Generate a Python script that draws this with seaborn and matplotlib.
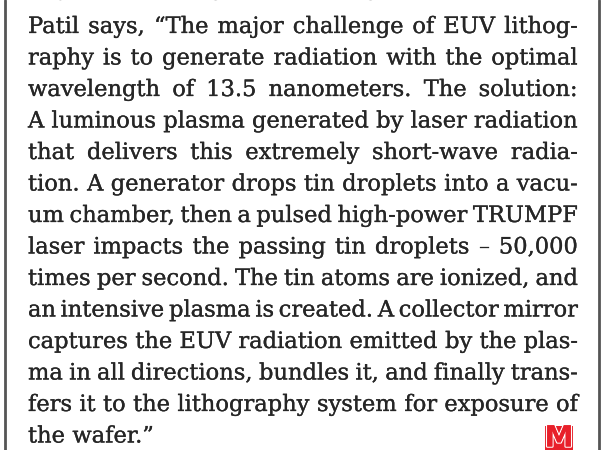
import seaborn as sns
import matplotlib.pyplot as plt
import matplotlib.patheffects as pe
from matplotlib import font_manager
from matplotlib.patches import Rectangle

sns.set_style("white")

# prefer a condensed serif if one is installed
serif = 'DejaVu Serif'
for cand in ['DejaVu Serif Condensed']:
    try:
        font_manager.findfont(cand, fallback_to_default=False)
        serif = cand
        break
    except ValueError:
        pass
plt.rcParams['font.family'] = [serif]

# Text lines of the excerpt (last one is not justified)
top_line = "Key to mastering this challenge."
lines = [
    "Patil says, \u201cThe major challenge of EUV lithog-",
    "raphy is to generate radiation with the optimal",
    "wavelength of 13.5 nanometers. The solution:",
    "A luminous plasma generated by laser radiation",
    "that delivers this extremely short-wave radia-",
    "tion. A generator drops tin droplets into a vacu-",
    "um chamber, then a pulsed high-power TRUMPF",
    "laser impacts the passing tin droplets \u2013 50,000",
    "times per second. The tin atoms are ionized, and",
    "an intensive plasma is created. A collector mirror",
    "captures the EUV radiation emitted by the plas-",
    "ma in all directions, bundles it, and finally trans-",
    "fers it to the lithography system for exposure of",
    "the wafer.\u201d",
]
justified = [True] * 13 + [False]
logo_text = "M"

W, H = 603, 450
left, right = 28, 578
first_base, pitch = 33, 31.5
text_color = "#262626"
thicken = [pe.withStroke(linewidth=0.2, foreground=text_color)]

fig = plt.figure(figsize=(6.03, 4.5), dpi=100)
ax = fig.add_axes([0, 0, 1, 1])
ax.set_xlim(0, W)
ax.set_ylim(H, 0)
ax.axis('off')
renderer = fig.canvas.get_renderer()


def word_widths(words, size):
    out = []
    for w in words:
        t = ax.text(0, 0, w, fontsize=size)
        out.append(t.get_window_extent(renderer).width)
        t.remove()
    return out


# pick the font size so the tightest justified line still fits
size = 17.5
while True:
    worst = 0
    for ln in lines[:13]:
        ws = ln.split(" ")
        worst = max(worst, sum(word_widths(ws, size)) + 4 * (len(ws) - 1))
    if worst <= right - left or size < 10:
        break
    size -= 0.25

space_w = word_widths(["a a"], size)[0] - 2 * word_widths(["a"], size)[0]


def draw_line(text, y, just):
    ws = text.split(" ")
    widths = word_widths(ws, size)
    if just and len(ws) > 1:
        gap = (right - left - sum(widths)) / (len(ws) - 1)
    else:
        gap = space_w
    x = left
    for w, wd in zip(ws, widths):
        ax.text(x, y, w, fontsize=size, color=text_color, va='baseline', ha='left',
                path_effects=thicken)
        x += wd + gap


# the previous line is mostly cut off by the top edge
draw_line(top_line, -5, False)
for i, (ln, j) in enumerate(zip(lines, justified)):
    draw_line(ln, first_base + i * pitch, j)

# frame lines left and right
ax.plot([5, 5], [0, H], color="#555555", lw=2)
ax.plot([599, 599], [0, H], color="#555555", lw=2)

# red logo box
ax.add_patch(Rectangle((545, 426), 28, 24, facecolor="#e8202a", edgecolor="none"))
ax.text(559, 438.5, logo_text, fontsize=21, ha='center', va='center', color="#e8202a",
        family='DejaVu Sans', fontweight='bold',
        path_effects=[pe.withStroke(linewidth=1.8, foreground="white"), pe.Normal()])

fig.savefig("out.png", dpi=100)
